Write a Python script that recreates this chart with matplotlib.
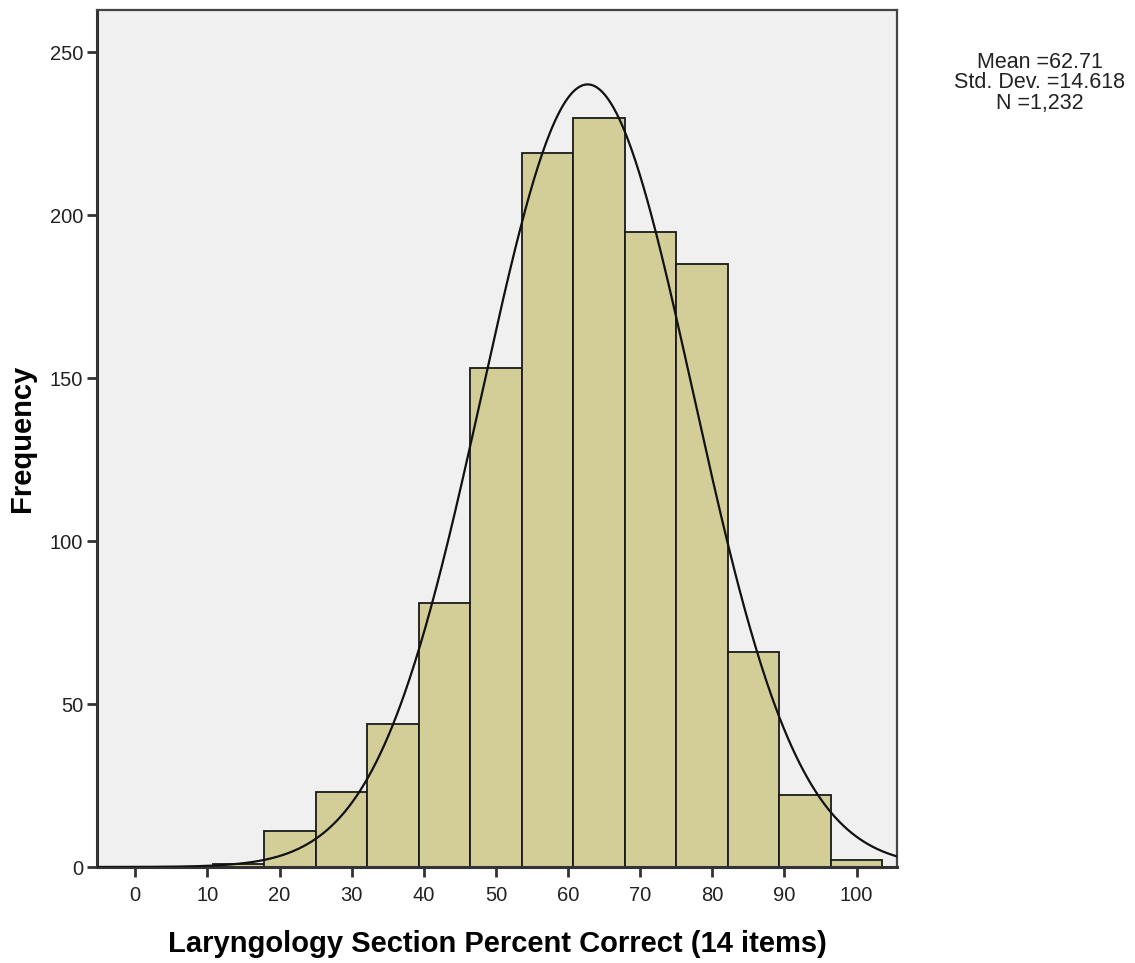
import numpy as np
import matplotlib
matplotlib.use("Agg")
import matplotlib.pyplot as plt

plt.rcParams['font.family'] = ['Liberation Sans', 'DejaVu Sans']

# Data
bin_width = 100 / 14
bin_edges = [10.714 + i * bin_width for i in range(14)]
counts = [1, 11, 23, 44, 81, 153, 219, 230, 195, 185, 66, 22, 2]
mean = 62.71
std = 14.618
n = 1232
x_ticks = [0, 10, 20, 30, 40, 50, 60, 70, 80, 90, 100]
y_ticks = [0, 50, 100, 150, 200, 250]

fig = plt.figure(figsize=(11.35, 9.63), dpi=100)
ax = fig.add_axes([97 / 1135, 1 - 867 / 963, 800 / 1135, 857 / 963])
ax.set_facecolor('#F0F0F0')

ax.bar(bin_edges[:-1], counts, width=bin_width, align='edge',
       color='#D3CE98', edgecolor='#1a1a1a', linewidth=1.3, zorder=2)

xs = np.linspace(-5.3, 105.6, 600)
ys = n * bin_width / (std * np.sqrt(2 * np.pi)) * np.exp(-0.5 * ((xs - mean) / std) ** 2)
ax.plot(xs, ys, color='#111111', linewidth=1.6, zorder=3)

ax.set_xlim(-5.3, 105.6)
ax.set_ylim(0, 263)
ax.set_xticks(x_ticks)
ax.set_yticks(y_ticks)
ax.tick_params(axis='both', direction='out', length=7, width=2, color='#333333',
               labelsize=14.5, labelcolor='#222222')
ax.tick_params(axis='x', pad=7)
ax.tick_params(axis='y', pad=3)
for s in ['left', 'bottom']:
    ax.spines[s].set_linewidth(2.2)
    ax.spines[s].set_color('#333333')
for s in ['top', 'right']:
    ax.spines[s].set_linewidth(1.6)
    ax.spines[s].set_color('#444444')

ax.set_xlabel('Laryngology Section Percent Correct (14 items)', fontsize=21,
              fontweight='bold', labelpad=18)
ax.set_ylabel('Frequency', fontsize=21, fontweight='bold', labelpad=10)

fig.text(1040 / 1135, 1 - 83 / 963,
         f'Mean ={mean}\nStd. Dev. ={std}\nN =1,232',
         ha='center', va='center', fontsize=15.5, linespacing=0.95, color='#222222')

fig.savefig('out.png', dpi=100)
